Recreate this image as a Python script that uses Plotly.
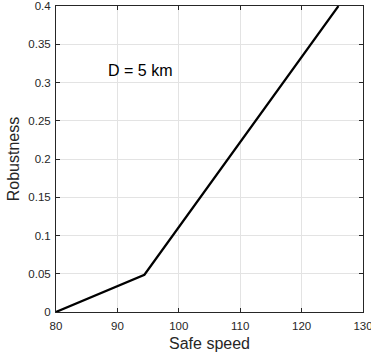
import plotly.graph_objects as go

safe_speed = [80, 94.4, 126]
robustness = [0, 0.0487, 0.4]
x_ticks = [80, 90, 100, 110, 120, 130]
y_ticks = [0, 0.05, 0.1, 0.15, 0.2, 0.25, 0.3, 0.35, 0.4]
y_tick_text = ["0", "0.05", "0.1", "0.15", "0.2", "0.25", "0.3", "0.35", "0.4"]
annotation_text = "D = 5 km"
annotation_pos = (88.1, 0.316)

fig = go.Figure()
fig.add_trace(go.Scatter(x=safe_speed, y=robustness, mode="lines",
                         line=dict(color="black", width=2.2), cliponaxis=True,
                         showlegend=False))

axis_common = dict(showline=True, linecolor="#262626", linewidth=1, mirror="ticks",
                   ticks="inside", ticklen=4, tickcolor="#262626", tickwidth=1,
                   showgrid=True, gridcolor="#e3e3e3", gridwidth=1, zeroline=False,
                   automargin=False, ticklabeloverflow="allow",
                   tickfont=dict(family="Liberation Sans, Arial", size=11.5, color="#262626"),
                   title_font=dict(family="Liberation Sans, Arial", size=16, color="#262626"))

fig.update_xaxes(range=[80, 130], tickvals=x_ticks, title_text="Safe speed",
                 title_standoff=7, ticklabelstandoff=3, **axis_common)
fig.update_yaxes(range=[0, 0.4], tickvals=y_ticks, ticktext=y_tick_text,
                 title_text="Robustness", title_standoff=4, ticklabelstandoff=2,
                 **axis_common)

fig.add_annotation(x=annotation_pos[0], y=annotation_pos[1], text=annotation_text,
                   showarrow=False, xanchor="left", yanchor="middle",
                   font=dict(family="Liberation Sans, Arial", size=16, color="black"))

fig.update_layout(width=371, height=362, plot_bgcolor="white", paper_bgcolor="white",
                  margin=dict(l=56, r=8, t=6, b=50))

fig.write_html("out.html", config={"displayModeBar": False},
               post_script="document.body.style.margin='0';")
